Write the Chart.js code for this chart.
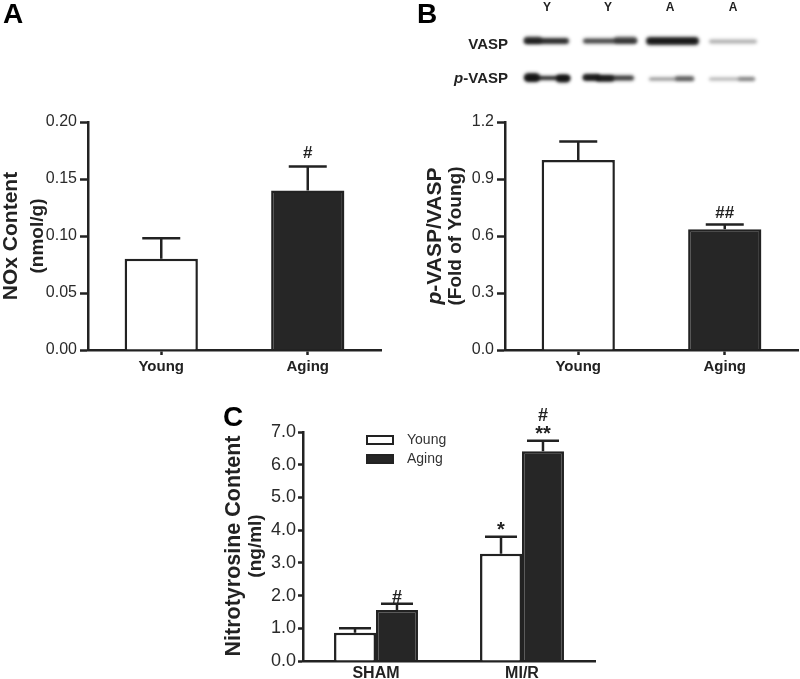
<!DOCTYPE html>
<html><head><meta charset="utf-8">
<script src="https://cdn.jsdelivr.net/npm/chart.js@4.4.1/dist/chart.umd.min.js"></script>
<style>
html,body{margin:0;padding:0;background:#fff;}
#wrap{position:relative;width:800px;height:679px;overflow:hidden;}
canvas{position:absolute;display:block;}
#cA{left:0;top:0;} #cB{left:400px;top:0;} #cC{left:0;top:380px;}
</style></head><body>
<div id="wrap">
<canvas id="cA" width="400" height="380"></canvas>
<canvas id="cB" width="400" height="380"></canvas>
<canvas id="cC" width="800" height="299"></canvas>
</div>
<script>
// ---------- data ----------
const aCategories = ['Young', 'Aging'];
const aValues = [0.08, 0.14];
const aErrors = [0.018, 0.021];
const aMarks = [[], ['#']];
const aTicks = [0, 0.2, 0.05];

const bCategories = ['Young', 'Aging'];
const bValues = [1.0, 0.635];
const bErrors = [0.097, 0.025];
const bMarks = [[], ['##']];
const bTicks = [0, 1.2, 0.3];
const blotLanes = ['Y', 'Y', 'A', 'A'];
const blotRows = ['VASP', 'p-VASP'];
const vaspIntensity = [0.9, 0.8, 0.97, 0.35];
const pvaspIntensity = [0.95, 0.85, 0.5, 0.35];

const cCategories = ['SHAM', 'MI/R'];
const cSeries = ['Young', 'Aging'];
const cYoungValues = [0.86, 3.28];
const cYoungErrors = [0.14, 0.52];
const cAgingValues = [1.56, 6.41];
const cAgingErrors = [0.19, 0.32];
const cYoungMarks = [[], ['*']];
const cAgingMarks = [['#'], ['**', '#']];
const cTicks = [0, 7, 1];

// ---------- helpers ----------
const FONT = '"Liberation Sans", Arial, Helvetica, sans-serif';
const INK = '#222222';
const DARK = '#262626';

const errorBars = {
  id: 'errbars',
  afterDatasetsDraw(chart, args, o) {
    const ctx = chart.ctx, ys = chart.scales.y;
    chart.data.datasets.forEach((ds, i) => {
      const meta = chart.getDatasetMeta(i);
      meta.data.forEach((bar, j) => {
        const v = ds.data[j], e = ds.errors[j];
        const yTop = ys.getPixelForValue(v + e);
        ctx.save();
        ctx.strokeStyle = INK; ctx.lineWidth = o.lw; ctx.lineCap = 'butt';
        ctx.beginPath();
        ctx.moveTo(bar.x, bar.y); ctx.lineTo(bar.x, yTop);
        ctx.moveTo(bar.x - o.cap, yTop); ctx.lineTo(bar.x + o.cap, yTop);
        ctx.stroke();
        ctx.fillStyle = INK; ctx.textAlign = 'center'; ctx.textBaseline = 'alphabetic';
        (ds.marks[j] || []).forEach((m, k) => {
          const isStar = m.indexOf('*') >= 0;
          ctx.font = 'bold ' + (isStar ? o.starSize : o.size) + 'px ' + FONT;
          ctx.fillText(m, bar.x, yTop - o.gap - k * o.lineH);
        });
        ctx.restore();
      });
    });
  }
};

function vText(ctx, parts, x, y) {
  ctx.save();
  ctx.translate(x, y); ctx.rotate(-Math.PI / 2);
  ctx.textBaseline = 'middle'; ctx.textAlign = 'left'; ctx.fillStyle = INK;
  let w = 0;
  parts.forEach(p => { ctx.font = p.font; w += ctx.measureText(p.t).width; });
  let cx = -w / 2;
  parts.forEach(p => { ctx.font = p.font; ctx.fillText(p.t, cx, 0); cx += ctx.measureText(p.t).width; });
  ctx.restore();
}
function letter(ctx, L, x, y) {
  ctx.save(); ctx.fillStyle = '#000'; ctx.font = 'bold 28px ' + FONT;
  ctx.textBaseline = 'alphabetic'; ctx.textAlign = 'left'; ctx.fillText(L, x, y); ctx.restore();
}

function xScale(opts) {
  return Object.assign({
    border: { color: INK, width: 2.5 },
    ticks: { color: INK, font: { family: FONT, size: 15, weight: 'bold' }, padding: 3 },
    grid: { drawOnChartArea: false, offset: false, tickLength: 5, tickWidth: 2.5, tickColor: INK }
  }, opts);
}
function yScale(t, dec, size, tickLen, pad, width) {
  return {
    min: t[0], max: t[1],
    border: { color: INK, width: 2.5 },
    ticks: { stepSize: t[2], color: '#2a2a2a', font: { family: FONT, size: size }, padding: pad,
             callback: v => Number(v).toFixed(dec) },
    grid: { drawOnChartArea: false, tickLength: tickLen, tickWidth: 2.5, tickColor: INK },
    afterFit(s) { s.width = width; }
  };
}

// ---------- Panel A ----------
new Chart(document.getElementById('cA'), {
  type: 'bar',
  data: { labels: aCategories, datasets: [{
    data: aValues, errors: aErrors, marks: aMarks,
    backgroundColor: ['#ffffff', DARK], borderColor: INK, borderWidth: 2.5,
    categoryPercentage: 0.5, barPercentage: 1 }] },
  options: {
    responsive: false, animation: false,
    layout: { padding: { left: 0, right: 19, top: 122, bottom: 0 } },
    plugins: { legend: { display: false }, tooltip: { enabled: false },
      errbars: { lw: 2.5, cap: 19, gap: 8, size: 17, starSize: 20, lineH: 19 } },
    scales: {
      x: xScale({ afterFit(s) { s.height = 30; } }),
      y: yScale(aTicks, 2, 16, 8, 3, 88)
    }
  },
  plugins: [errorBars, { id: 'txtA', afterDraw(chart) {
    const ctx = chart.ctx;
    letter(ctx, 'A', 3, 23);
    vText(ctx, [{ t: 'NOx Content', font: 'bold 21px ' + FONT }], 11, 236);
    vText(ctx, [{ t: '(nmol/g)', font: 'bold 19px ' + FONT }], 38, 236);
  } }]
});

// ---------- Panel B ----------
function drawBlot(ctx) {
  const labX = [147, 208, 270, 333];
  ctx.save();
  ctx.fillStyle = INK; ctx.textAlign = 'center'; ctx.textBaseline = 'middle';
  ctx.font = 'bold 12px ' + FONT;
  blotLanes.forEach((l, i) => ctx.fillText(l, labX[i], 8));
  ctx.textAlign = 'right'; ctx.font = 'bold 15px ' + FONT;
  ctx.fillText(blotRows[0], 108, 45);
  const w1 = ctx.measureText('-VASP').width;
  ctx.fillText('-VASP', 108, 79);
  ctx.font = 'bold italic 15px ' + FONT;
  ctx.fillText('p', 108 - w1, 79);
  ctx.restore();
  ctx.save();
  // soft (blurred) bands via shadow offset trick
  const OFF = 2000;
  ctx.shadowOffsetX = OFF; ctx.shadowOffsetY = 0; ctx.shadowBlur = 3.5;
  const band = (x0, x1, yc, h, a) => {
    ctx.shadowColor = 'rgba(18,18,18,' + a + ')';
    ctx.fillStyle = '#000';
    ctx.beginPath();
    ctx.roundRect(x0 - OFF, yc - h / 2, x1 - x0, h, h / 2);
    ctx.fill();
  };
  // VASP row
  band(124, 169, 41, 6, vaspIntensity[0]);
  band(124, 142, 40, 7, vaspIntensity[0] * 0.6);
  band(183, 237, 41, 5, vaspIntensity[1]);
  band(214, 237, 40, 7, vaspIntensity[1] * 0.6);
  band(246, 299, 41, 8, vaspIntensity[2]);
  band(309, 357, 41.5, 4, vaspIntensity[3]);
  // p-VASP row
  band(125, 170, 78, 4, pvaspIntensity[0]);
  band(124, 140, 77.5, 9, pvaspIntensity[0]);
  band(156, 170, 78.5, 8, pvaspIntensity[0]);
  band(183, 234, 78, 5, pvaspIntensity[1]);
  band(183, 200, 77, 6, pvaspIntensity[1]);
  band(196, 214, 78.5, 6, pvaspIntensity[1]);
  band(249, 294, 79, 3, pvaspIntensity[2]);
  band(275, 294, 78.5, 5, pvaspIntensity[2]);
  band(309, 355, 79, 3, pvaspIntensity[3]);
  band(338, 355, 79, 4, pvaspIntensity[3]);
  ctx.restore();
}

new Chart(document.getElementById('cB'), {
  type: 'bar',
  data: { labels: bCategories, datasets: [{
    data: bValues, errors: bErrors, marks: bMarks,
    backgroundColor: ['#ffffff', DARK], borderColor: INK, borderWidth: 2.5,
    categoryPercentage: 0.5, barPercentage: 1 }] },
  options: {
    responsive: false, animation: false,
    layout: { padding: { left: 0, right: 2, top: 122, bottom: 0 } },
    plugins: { legend: { display: false }, tooltip: { enabled: false },
      errbars: { lw: 2.5, cap: 19, gap: 7, size: 17, starSize: 20, lineH: 19 } },
    scales: {
      x: xScale({ afterFit(s) { s.height = 30; } }),
      y: yScale(bTicks, 1, 16, 8, 3, 105)
    }
  },
  plugins: [errorBars, { id: 'txtB', afterDraw(chart) {
    const ctx = chart.ctx;
    letter(ctx, 'B', 17, 23);
    vText(ctx, [{ t: 'p', font: 'bold italic 21px ' + FONT }, { t: '-VASP/VASP', font: 'bold 21px ' + FONT }], 35, 236);
    vText(ctx, [{ t: '(Fold of Young)', font: 'bold 19px ' + FONT }], 56, 236);
    drawBlot(ctx);
  } }]
});

// ---------- Panel C ----------
new Chart(document.getElementById('cC'), {
  type: 'bar',
  data: { labels: cCategories, datasets: [
    { label: cSeries[0], data: cYoungValues, errors: cYoungErrors, marks: cYoungMarks,
      backgroundColor: '#ffffff', borderColor: INK, borderWidth: 2.5,
      categoryPercentage: 0.575, barPercentage: 1 },
    { label: cSeries[1], data: cAgingValues, errors: cAgingErrors, marks: cAgingMarks,
      backgroundColor: DARK, borderColor: INK, borderWidth: 2.5,
      categoryPercentage: 0.575, barPercentage: 1 }
  ] },
  options: {
    responsive: false, animation: false,
    layout: { padding: { left: 203, right: 205, top: 52, bottom: 0 } },
    plugins: { legend: { display: false }, tooltip: { enabled: false },
      errbars: { lw: 2.5, cap: 16, gap: 1, size: 18, starSize: 20, lineH: 19 } },
    scales: {
      x: xScale({ ticks: { color: INK, font: { family: FONT, size: 16, weight: 'bold' }, padding: 3 },
                  grid: { drawOnChartArea: false, drawTicks: false },
                  afterFit(s) { s.height = 18; } }),
      y: yScale(cTicks, 1, 18, 5, 2, 100)
    }
  },
  plugins: [errorBars, { id: 'txtC', afterDraw(chart) {
    const ctx = chart.ctx;
    letter(ctx, 'C', 223, 46);
    vText(ctx, [{ t: 'Nitrotyrosine Content', font: 'bold 21.5px ' + FONT }], 234, 166);
    vText(ctx, [{ t: '(ng/ml)', font: 'bold 19px ' + FONT }], 256, 166);
    const ds = chart.data.datasets;
    const rows = [60, 79];
    ctx.save();
    ds.forEach((d, i) => {
      ctx.fillStyle = d.backgroundColor; ctx.strokeStyle = INK; ctx.lineWidth = 2;
      ctx.fillRect(367, rows[i] - 4, 26, 8);
      ctx.strokeRect(367, rows[i] - 4, 26, 8);
      ctx.fillStyle = '#333'; ctx.font = '14px ' + FONT;
      ctx.textAlign = 'left'; ctx.textBaseline = 'middle';
      ctx.fillText(d.label, 407, rows[i]);
    });
    ctx.restore();
  } }]
});
</script>
</body></html>
